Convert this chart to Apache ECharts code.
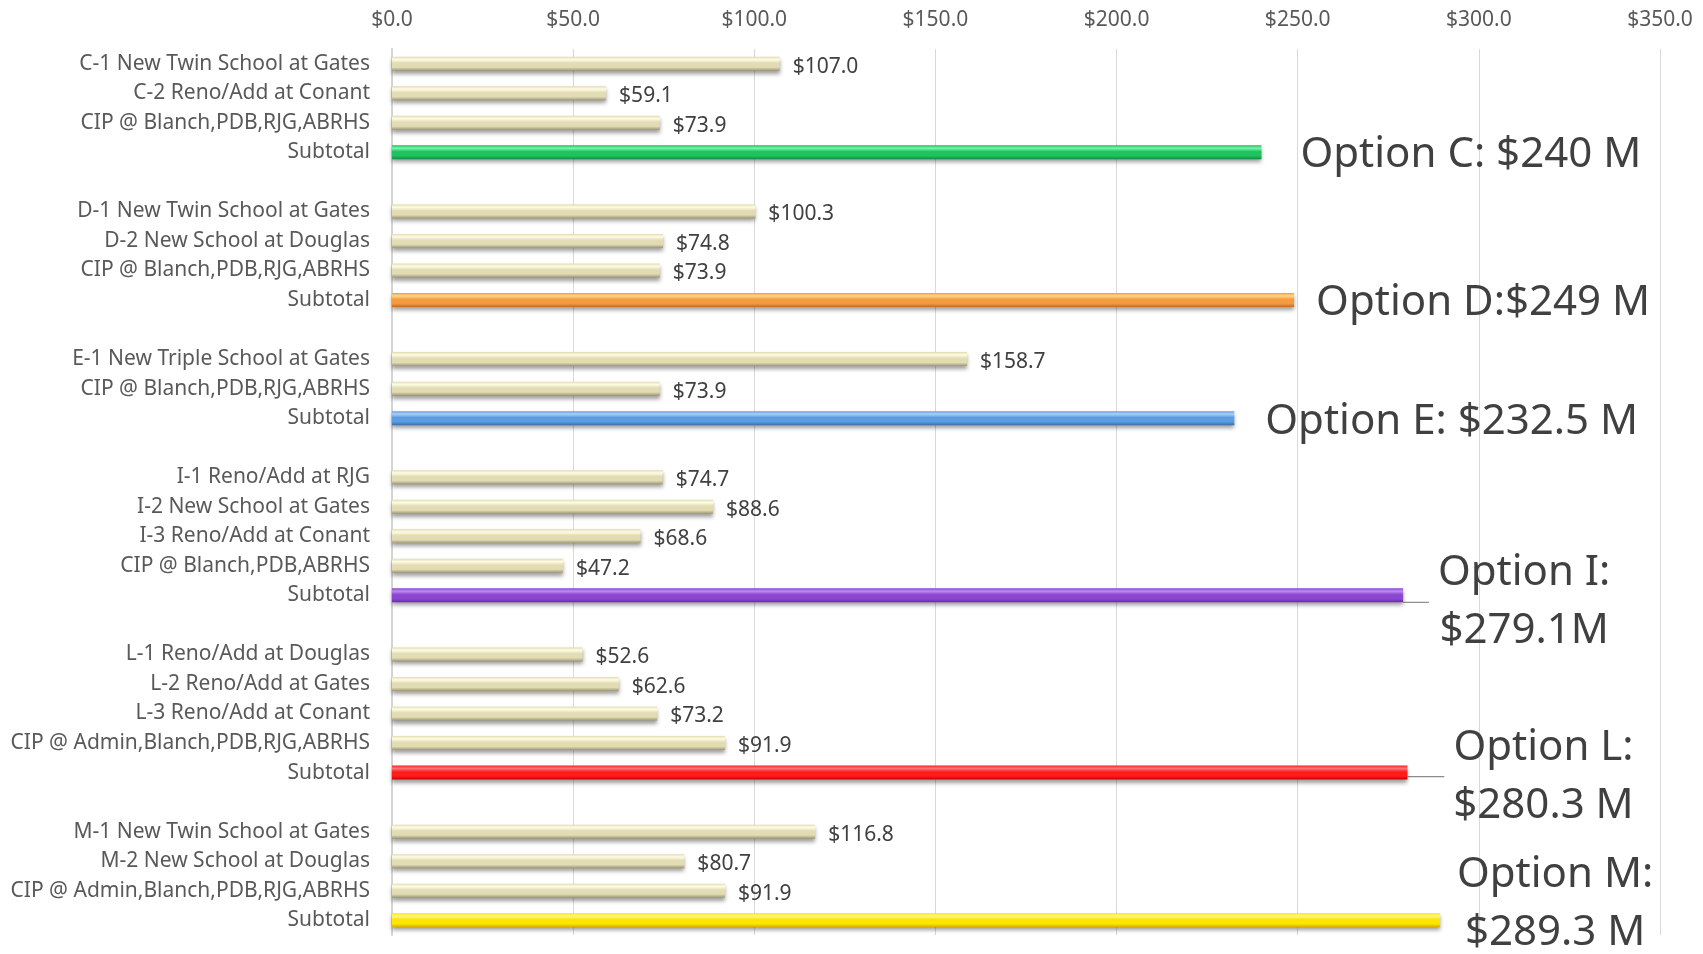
<!DOCTYPE html>
<html>
<head>
<meta charset="utf-8">
<title>Option cost comparison</title>
<script src="https://cdn.jsdelivr.net/npm/echarts@6/dist/echarts.min.js"></script>
<style>
  html, body { margin: 0; padding: 0; background: #ffffff; }
  #chart { width: 1703px; height: 954px; }
</style>
</head>
<body>
<div id="chart"></div>
<script>
// Project line items per option ($ millions)
const itemLabels = [
  ['C-1 New Twin School at Gates', 'C-2 Reno/Add at Conant', 'CIP @ Blanch,PDB,RJG,ABRHS'],
  ['D-1 New Twin School at Gates', 'D-2 New School at Douglas', 'CIP @ Blanch,PDB,RJG,ABRHS'],
  ['E-1 New Triple School at Gates', 'CIP @ Blanch,PDB,RJG,ABRHS'],
  ['I-1 Reno/Add at RJG', 'I-2 New School at Gates', 'I-3 Reno/Add at Conant', 'CIP @ Blanch,PDB,ABRHS'],
  ['L-1 Reno/Add at Douglas', 'L-2 Reno/Add at Gates', 'L-3 Reno/Add at Conant', 'CIP @ Admin,Blanch,PDB,RJG,ABRHS'],
  ['M-1 New Twin School at Gates', 'M-2 New School at Douglas', 'CIP @ Admin,Blanch,PDB,RJG,ABRHS']
];
const itemValues = [
  [107.0, 59.1, 73.9],
  [100.3, 74.8, 73.9],
  [158.7, 73.9],
  [74.7, 88.6, 68.6, 47.2],
  [52.6, 62.6, 73.2, 91.9],
  [116.8, 80.7, 91.9]
];
const subtotalName = 'Subtotal';
const subtotals = [240, 249, 232.5, 279.1, 280.3, 289.3];
const subtotalLabels = [
  'Option C: $240 M',
  'Option D:$249 M',
  'Option E: $232.5 M',
  'Option I:\n$279.1M',
  'Option L:\n$280.3 M',
  'Option M:\n$289.3 M'
];
const axisMax = 350;
const axisStep = 50;

// ---- styling ----
const FONT = 'Noto Sans';
const SMALL = 21;
const BIG = 42;
function bevel(light, mid, dark) {
  return new echarts.graphic.LinearGradient(0, 0, 0, 1, [
    { offset: 0, color: mid },
    { offset: 0.2, color: light },
    { offset: 0.45, color: mid },
    { offset: 0.75, color: mid },
    { offset: 1, color: dark }
  ]);
}
const shadow = { shadowColor: 'rgba(0,0,0,0.38)', shadowBlur: 4, shadowOffsetY: 3 };
const creamStyle = Object.assign({ color: bevel('#fffce2', '#e2dcb4', '#9d9672') }, shadow);
const subtotalStyles = [
  bevel('#7cf5ac', '#1ec25e', '#0f8a40'),
  bevel('#ffd88a', '#f59b3f', '#c06a22'),
  bevel('#a9d0fb', '#5c9de2', '#3a6dae'),
  bevel('#c08af0', '#8b47d2', '#632ba0'),
  bevel('#ff7a7a', '#ff1c1c', '#c40000'),
  bevel('#fff78a', '#ffe500', '#d1ad00')
].map(c => Object.assign({ color: c }, shadow));

// Subtotal label placement: single-line labels sit right of the bar,
// two-line labels are centred at an offset, some with a leader line.
const subtotalPlacement = [
  { distance: 39, offset: [0, 3] },
  { distance: 22, offset: [0, 3] },
  { distance: 31, offset: [0, 4] },
  { twoLine: true, offset: [121, 7], leader: true },
  { twoLine: true, offset: [136, 4], leader: true },
  { twoLine: true, offset: [115, -16], leader: false }
];

// ---- build rows ----
const categories = [];
const seriesData = [];
itemLabels.forEach((names, g) => {
  if (g > 0) {
    categories.push('');
    seriesData.push('-');
  }
  names.forEach((name, i) => {
    categories.push(name);
    seriesData.push({
      value: itemValues[g][i],
      itemStyle: creamStyle,
      label: {
        show: true,
        position: 'right',
        distance: 13,
        formatter: '$' + itemValues[g][i].toFixed(1),
        fontFamily: FONT,
        fontSize: SMALL,
        color: '#404040',
        offset: [0, 3]
      }
    });
  });
  categories.push(subtotalName);
  const p = subtotalPlacement[g];
  const lbl = {
    show: true,
    position: 'right',
    formatter: subtotalLabels[g],
    fontFamily: FONT,
    fontSize: BIG,
    color: '#404040'
  };
  if (p.twoLine) {
    Object.assign(lbl, { distance: 0, align: 'center', verticalAlign: 'middle', lineHeight: 58, offset: p.offset, padding: [0, 9] });
  } else {
    Object.assign(lbl, { distance: p.distance, offset: p.offset });
  }
  seriesData.push({
    value: subtotals[g],
    itemStyle: subtotalStyles[g],
    label: lbl,
    labelLine: { show: !!p.leader, lineStyle: { color: '#8c8c8c', width: 1.2 } }
  });
});

const chart = echarts.init(document.getElementById('chart'), null, { renderer: 'canvas' });
chart.setOption({
  backgroundColor: '#ffffff',
  animation: false,
  grid: { left: 392, right: 43, top: 49, bottom: 19, containLabel: false },
  xAxis: {
    type: 'value',
    position: 'top',
    min: 0,
    max: axisMax,
    interval: axisStep,
    axisLine: { show: false },
    axisTick: { show: false },
    axisLabel: {
      margin: 18,
      fontFamily: FONT,
      fontSize: SMALL,
      color: '#595959',
      formatter: v => '$' + v.toFixed(1)
    },
    splitLine: { show: true, lineStyle: { color: '#d9d9d9', width: 1 } }
  },
  yAxis: {
    type: 'category',
    inverse: true,
    data: categories,
    axisTick: { show: false },
    axisLine: { show: true, lineStyle: { color: '#d4d4d4', width: 2 } },
    axisLabel: {
      margin: 22,
      interval: 0,
      fontFamily: FONT,
      fontSize: SMALL,
      color: '#595959',
      padding: [5, 0, 0, 0]
    }
  },
  series: [{
    type: 'bar',
    barWidth: 14,
    data: seriesData,
    labelLine: { show: false },
    emphasis: { disabled: true }
  }]
});
</script>
</body>
</html>
